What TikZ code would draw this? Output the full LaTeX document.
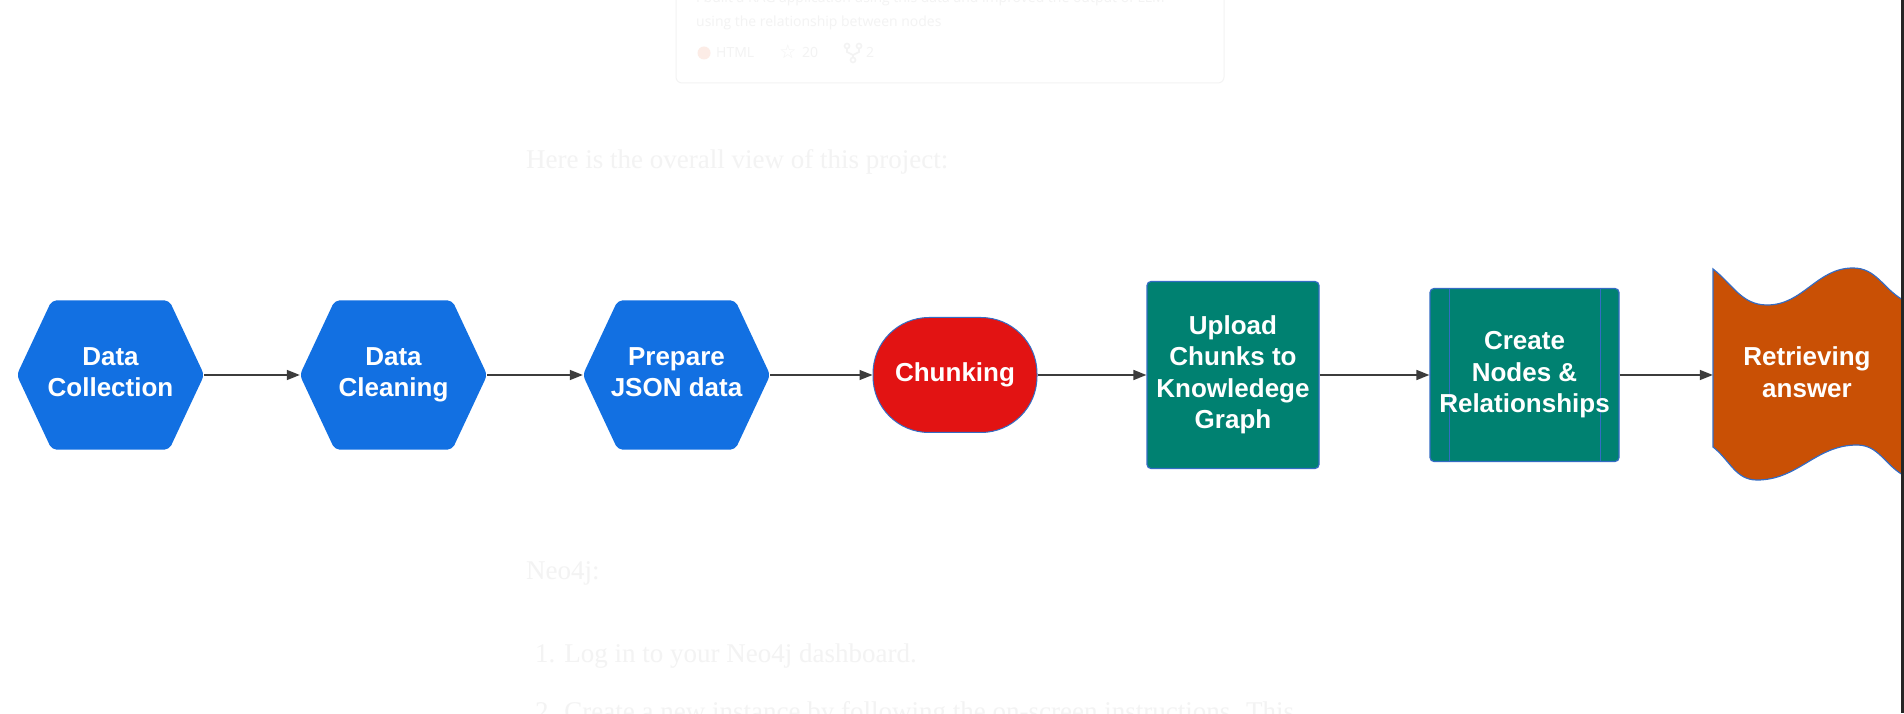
\documentclass[tikz,border=0pt]{standalone}
\usepackage{fontspec}
\usepackage{xcolor}
\usetikzlibrary{arrows.meta, backgrounds}

\newfontfamily\flowfont{Liberation Sans}
\newfontfamily\pagefont{Liberation Serif}
\newfontfamily\cardfont{Open Sans}
\newfontfamily\symfont{DejaVu Sans}

\definecolor{hexblue}{RGB}{18,112,226}
\definecolor{chunkred}{RGB}{226,19,19}
\definecolor{graphteal}{RGB}{0,129,113}
\definecolor{answerorange}{RGB}{201,80,5}
\definecolor{edgeblue}{RGB}{52,108,196}
\definecolor{arrowgray}{RGB}{60,60,60}
\definecolor{ghost}{RGB}{243,243,243}
\definecolor{ghostdot}{RGB}{252,236,230}

\begin{document}
\begin{tikzpicture}[
    x=1pt, y=1pt,
    flowtext/.style={text=white, align=center, inner sep=0pt, text depth=5.5pt,
        font=\flowfont\bfseries\fontsize{26}{31.5}\selectfont},
    hexnode/.style={flowtext, minimum width=187pt, minimum height=149pt},
    chunknode/.style={flowtext, minimum width=164pt, minimum height=115pt,
        rounded corners=56pt, fill=chunkred, draw=edgeblue, line width=1pt},
    tealbox/.style={flowtext, fill=graphteal, draw=edgeblue, line width=1.2pt,
        rounded corners=4pt},
    flow/.style={draw=arrowgray, line width=1.4pt, -{Triangle[length=13pt, width=10pt]}},
    ghosttext/.style={text=ghost, inner sep=0pt, anchor=base west,
        font=\pagefont\fontsize{27}{32}\selectfont},
    cardtext/.style={text=ghost, inner sep=0pt, anchor=base west,
        font=\cardfont\fontsize{14}{20}\selectfont}
]
    \useasboundingbox (0,0) rectangle (1904,713);

    % Coordinates
    \coordinate (collect_c) at (110.5, 338);
    \coordinate (clean_c) at (393.5, 338);
    \coordinate (prepare_c) at (676.5, 338);
    \coordinate (chunk_c) at (955, 338);
    \coordinate (upload_c) at (1233, 338);
    \coordinate (create_c) at (1524.5, 338);
    \coordinate (retrieve_c) at (1807, 338);

    % Page behind the diagram
    \draw[ghost, line width=1pt, rounded corners=6pt] (676,730) rectangle (1224,630);
    \node[cardtext] (card_one) at (696,710) {I built a RAG application using this data and improved the output of LLM};
    \node[cardtext] (card_two) at (696,686) {using the relationship between nodes};
    \fill[ghostdot] (704,660) circle (6.5pt);
    \node[cardtext] (card_lang) at (716,655) {HTML};
    \node[text=ghost, inner sep=0pt, font=\symfont\fontsize{19}{20}\selectfont] (card_star) at (788,661) {☆};
    \node[cardtext] (card_stars) at (802,655) {20};
    \draw[ghost, line width=1.6pt] (847,667) circle (2.5pt) (859,667) circle (2.5pt) (853,653) circle (2.5pt)
        (847,664.5) -- (847,661) -- (853,658) -- (859,661) -- (859,664.5) (853,658) -- (853,655.5);
    \node[cardtext] (card_forks) at (866,655) {2};

    \node[ghosttext] (intro) at (526,544) {Here is the overall view of this project:};
    \node[ghosttext] (neo) at (526,134) {Neo4j:};
    \node[ghosttext] (step_one) at (535,51) {1. Log in to your Neo4j dashboard.};
    \node[ghosttext] (step_two) at (535,-7) {2. Create a new instance by following the on-screen instructions. This};

    % Nodes
    \node[hexnode] (collect) at (collect_c) {Data\\Collection};
    \node[hexnode] (clean) at (clean_c) {Data\\Cleaning};
    \node[hexnode] (prepare) at (prepare_c) {Prepare\\JSON data};
    \node[chunknode] (chunk) at (chunk_c) {Chunking};
    \node[tealbox, minimum width=172pt, minimum height=187pt] (upload) at (upload_c)
        {Upload\\Chunks to\\Knowledege\\Graph};
    \node[tealbox, minimum width=189pt, minimum height=173pt,
        path picture={
            \draw[edgeblue, line width=1pt]
                ([xshift=19pt]path picture bounding box.north west) -- ([xshift=19pt]path picture bounding box.south west)
                ([xshift=-19pt]path picture bounding box.north east) -- ([xshift=-19pt]path picture bounding box.south east);
        }] (create) at (create_c) {Create\\Nodes \&\\Relationships};
    \node[flowtext, minimum width=188pt, minimum height=178pt] (retrieve) at (retrieve_c) {Retrieving\\answer};

    % Shapes behind the text
    \begin{scope}[on background layer]
        \fill[white] (0,0) rectangle (1904,713);
        \foreach \hex in {collect, clean, prepare}
            \fill[hexblue, rounded corners=5pt] (\hex.west) -- ([xshift=35pt]\hex.north west)
                -- ([xshift=-35pt]\hex.north east) -- (\hex.east)
                -- ([xshift=-35pt]\hex.south east) -- ([xshift=35pt]\hex.south west) -- cycle;
        \filldraw[fill=answerorange, draw=edgeblue, line width=1.2pt]
            (1713,444) to[out=-38,in=180] (1767,408) to[out=0,in=180] (1853,445)
            to[out=0,in=150] (1903,413) -- (1903,238)
            to[out=150,in=0] (1857,268) to[out=180,in=0] (1757,233)
            to[out=180,in=-38] (1713,266) -- cycle;
    \end{scope}

    % Arrows
    \draw[flow] (collect.east) -- (clean.west);
    \draw[flow] (clean.east) -- (prepare.west);
    \draw[flow] (prepare.east) -- (chunk.west);
    \draw[flow] (chunk.east) -- (upload.west);
    \draw[flow] (upload.east) -- (create.west);
    \draw[flow] (create.east) -- (retrieve.west);

    % Window edge
    \fill[black!85] (1901,0) rectangle (1904,713);

\end{tikzpicture}
\end{document}
